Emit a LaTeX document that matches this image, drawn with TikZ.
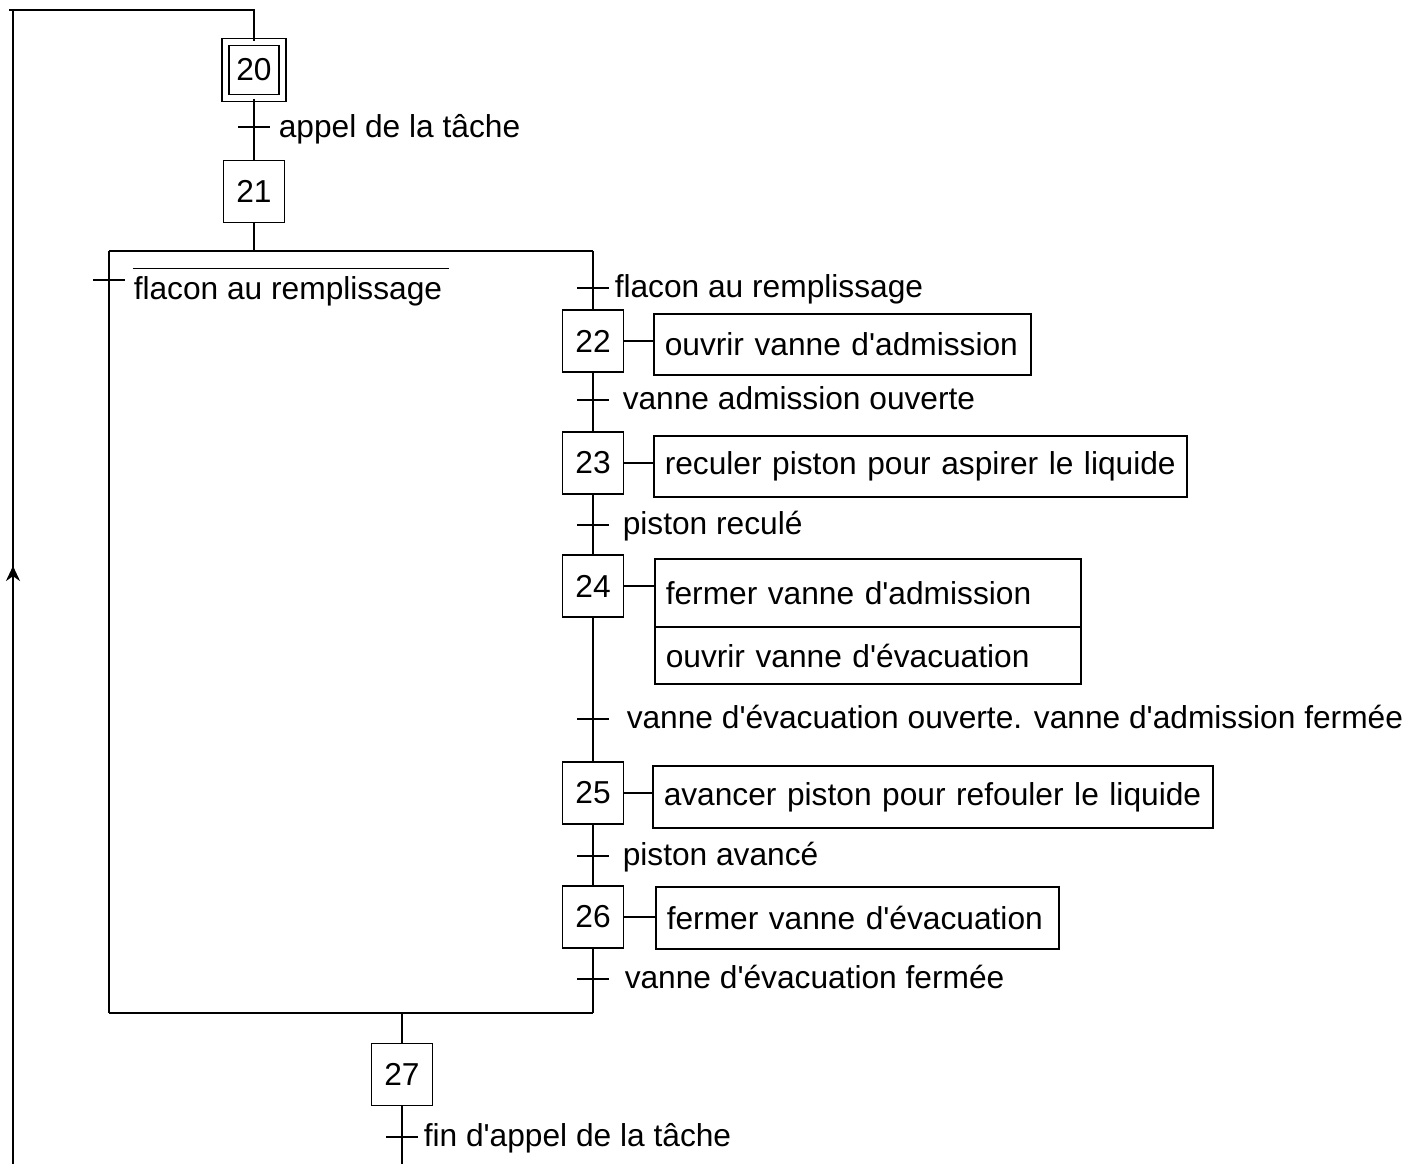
\documentclass[tikz,border=0pt]{standalone}
\usepackage{fontspec}
\setmainfont{Liberation Sans}[Ligatures=TeXOff]
\usetikzlibrary{arrows.meta}
\begin{document}
\begin{tikzpicture}[x=0.5pt,y=-0.5pt,line width=0.75pt,
  every node/.style={font=\fontsize{15.85pt}{19pt}\selectfont},
  stepbox/.style={draw,minimum width=30.5pt,minimum height=31pt,inner sep=0pt},
  initstep/.style={draw,double,double distance=2.75pt,minimum width=28.5pt,minimum height=28pt,inner sep=0pt},
  actbox/.style={draw,anchor=west,align=left,inner xsep=5.5pt,inner ysep=0pt},
  lbl/.style={anchor=base west,inner sep=0pt},
  tick/.style={line width=0.75pt}]
\useasboundingbox (0,0) rectangle (1419,1164);

% steps
\node[initstep] (s20) at (254,70) {20};
\node[stepbox] (s21) at (254,191.5) {21};
\node[stepbox] (s22) at (593,341) {22};
\node[stepbox] (s23) at (593,463) {23};
\node[stepbox] (s24) at (593,586) {24};
\node[stepbox] (s25) at (593,793) {25};
\node[stepbox] (s26) at (593,917) {26};
\node[stepbox] (s27) at (402,1074.5) {27};

% actions
\node[actbox,text width=177.5pt,minimum height=30.5pt] (a22) at (653,344.5) {\mbox{ouvrir vanne d'admission}};
\node[actbox,text width=255.5pt,minimum height=30.5pt] (a23) at (653,466.5) {\mbox{reculer piston pour aspirer le liquide}};
\node[actbox,text width=202pt,minimum height=34pt] (a24) at (654,593) {\mbox{fermer vanne d'admission}};
\node[actbox,text width=202pt,minimum height=28.5pt] (a24b) at (654,655.5) {\mbox{ouvrir vanne d'évacuation}};
\node[actbox,text width=269pt,minimum height=31pt] (a25) at (652,797) {\mbox{avancer piston pour refouler le liquide}};
\node[actbox,text width=190.5pt,minimum height=31pt] (a26) at (655,918) {\mbox{fermer vanne d'évacuation}};

\foreach \s/\a in {s22/a22,s23/a23,s24/a24,s25/a25,s26/a26}
  \draw (\s.east) -- (\s.east -| \a.west);

% coordinates of the structure
\coordinate (ctl) at (9,10);
\coordinate (cl) at (13,10);
\coordinate (ct) at (254,10);
\coordinate (cbl) at (13,1164);
\coordinate (ar1) at (13,661);
\coordinate (ar2) at (13,566);
\coordinate (dl) at (109,251);
\coordinate (dr) at (593,251);
\coordinate (gl) at (109,1013);
\coordinate (gr) at (593,1013);
\coordinate (gm) at (402,1013);
\coordinate (end) at (402,1164);

% loop back line
\draw (ctl) -- (ct) -- (s20.north);
\draw (cl) -- (cbl);
\draw[line width=1.1pt,-{Stealth[length=7.5pt,width=7pt]}] (ar1) -- (ar2);

% main chain
\draw (s20.south) -- (s21.north);
\draw (s21.south) -- (s21.south |- dl);
\draw (dl) -- (dr);
\draw (dl) -- (gl);
\draw (dr) -- (s22.north);
\draw (s22.south) -- (s23.north);
\draw (s23.south) -- (s24.north);
\draw (s24.south) -- (s25.north);
\draw (s25.south) -- (s26.north);
\draw (s26.south) -- (gr);
\draw (gl) -- (gr);
\draw (gm) -- (s27.north);
\draw (s27.south) -- (end);

% transitions
\coordinate (t1) at (254,127);
\coordinate (t2) at (109,280);
\coordinate (t3) at (593,288);
\coordinate (t4) at (593,400);
\coordinate (t5) at (593,525);
\coordinate (t6) at (593,719);
\coordinate (t7) at (593,856);
\coordinate (t8) at (593,979);
\coordinate (t9) at (402,1137);
\foreach \t in {t1,t2,t3,t4,t5,t6,t7,t8,t9}
  \draw[tick] ([xshift=-8pt]\t) -- ([xshift=8pt]\t);

% receptivities
\node[lbl] (r1) at (278,137) {appel de la tâche};
\node[lbl] (r2) at (133,299) {flacon au remplissage};
\draw ([yshift=3.5pt]r2.north west) -- ([yshift=3.5pt,xshift=3pt]r2.north east);
\node[lbl] (r3) at (614,297) {flacon au remplissage};
\node[lbl] (r4) at (622,409) {vanne admission ouverte};
\node[lbl] (r5) at (622,534) {piston reculé};
\node[lbl] (r6) at (626,728) {vanne d'évacuation ouverte. vanne d'admission fermée};
\node[lbl] (r7) at (622,865) {piston avancé};
\node[lbl] (r8) at (624,988) {vanne d'évacuation fermée};
\node[lbl] (r9) at (423,1146) {fin d'appel de la tâche};
\end{tikzpicture}
\end{document}
